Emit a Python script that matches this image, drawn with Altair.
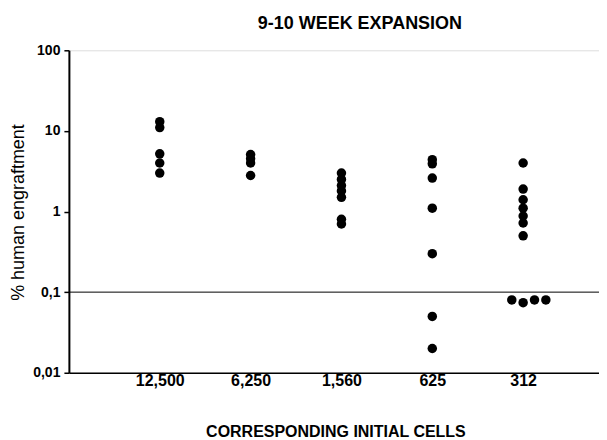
import json
import altair as alt
import pandas as pd

# ---- data ----
cells = ["12,500", "6,250", "1,560", "625", "312"]
g12500 = [13, 11, 5.2, 4.0, 3.0]
g6250 = [5.1, 4.5, 4.0, 2.8]
g1560 = [3.0, 2.5, 2.1, 1.8, 1.5, 0.8, 0.7]
g625 = [4.4, 3.9, 2.6, 1.1, 0.3, 0.05, 0.02]
g312 = [4.0, 1.9, 1.4, 1.1, 0.88, 0.72, 0.5, 0.08, 0.074, 0.08, 0.08]
# side-by-side slot of each dot (0 = on the column)
slot312 = [0, 0, 0, 0, 0, 0, 0, -1, 0, 1, 2]

groups = [g12500, g6250, g1560, g625, g312]
rows = []
for i, vals in enumerate(groups):
    slots = slot312 if i == 4 else [0] * len(vals)
    for v, s in zip(vals, slots):
        rows.append({"idx": i + 1, "slot": s, "value": v, "cells": cells[i]})
df = pd.DataFrame(rows)

FONT = "Liberation Sans"
label_expr = json.dumps(cells) + "[datum.value - 1]"

xscale = alt.Scale(domain=[0, 5.835], nice=False, zero=False)
yscale = alt.Scale(type="log", domain=[0.01, 100], nice=False)

points = alt.Chart(df).transform_calculate(
    pos="datum.idx + datum.slot * 0.125"
).mark_circle(size=90, color="black", opacity=1).encode(
    x=alt.X("pos:Q", scale=xscale,
            axis=alt.Axis(values=[1, 2, 3, 4, 5], labelExpr=label_expr,
                          title="CORRESPONDING INITIAL CELLS",
                          grid=False, ticks=False, labelPadding=0,
                          labelFont=FONT, labelFontSize=16, labelFontWeight="bold",
                          labelColor="black", domainColor="black", domainWidth=1.5,
                          titleFont=FONT, titleFontSize=16, titleFontWeight="bold",
                          titleColor="black", titleX=267, titleY=64,
                          titleAlign="center", titleBaseline="alphabetic")),
    y=alt.Y("value:Q", scale=yscale,
            axis=alt.Axis(values=[0.01, 0.1, 1, 10, 100],
                          labelExpr="replace(toString(datum.value), '.', ',')",
                          title="% human engraftment", grid=False,
                          tickSize=5, tickColor="black", tickWidth=1.5,
                          labelPadding=4, labelFont=FONT, labelFontSize=14,
                          labelFontWeight="bold", labelColor="black",
                          domainColor="black", domainWidth=2,
                          titleFont=FONT, titleFontSize=18, titleFontWeight="normal",
                          titleColor="black", titleX=-45, titleY=162,
                          titleAngle=-90, titleAlign="center",
                          titleBaseline="alphabetic")),
    tooltip=["cells:N", "value:Q"],
)

rule = alt.Chart(pd.DataFrame({"t": [0.1]})).mark_rule(color="black", strokeWidth=1).encode(
    y=alt.Y("t:Q", scale=yscale)
)

chart = alt.layer(rule, points).properties(
    width=531,
    height=323,
    autosize="none",
    padding={"left": 61, "top": 42, "right": 0, "bottom": 67},
    title=alt.TitleParams("9-10 WEEK EXPANSION", font=FONT, fontSize=18,
                          fontWeight="bold", color="black", anchor="middle",
                          dx=26, dy=16, offset=12, baseline="alphabetic"),
).configure_view(stroke=None).configure(background="white")

chart.save("out.html", embed_options={"renderer": "svg", "actions": False})
